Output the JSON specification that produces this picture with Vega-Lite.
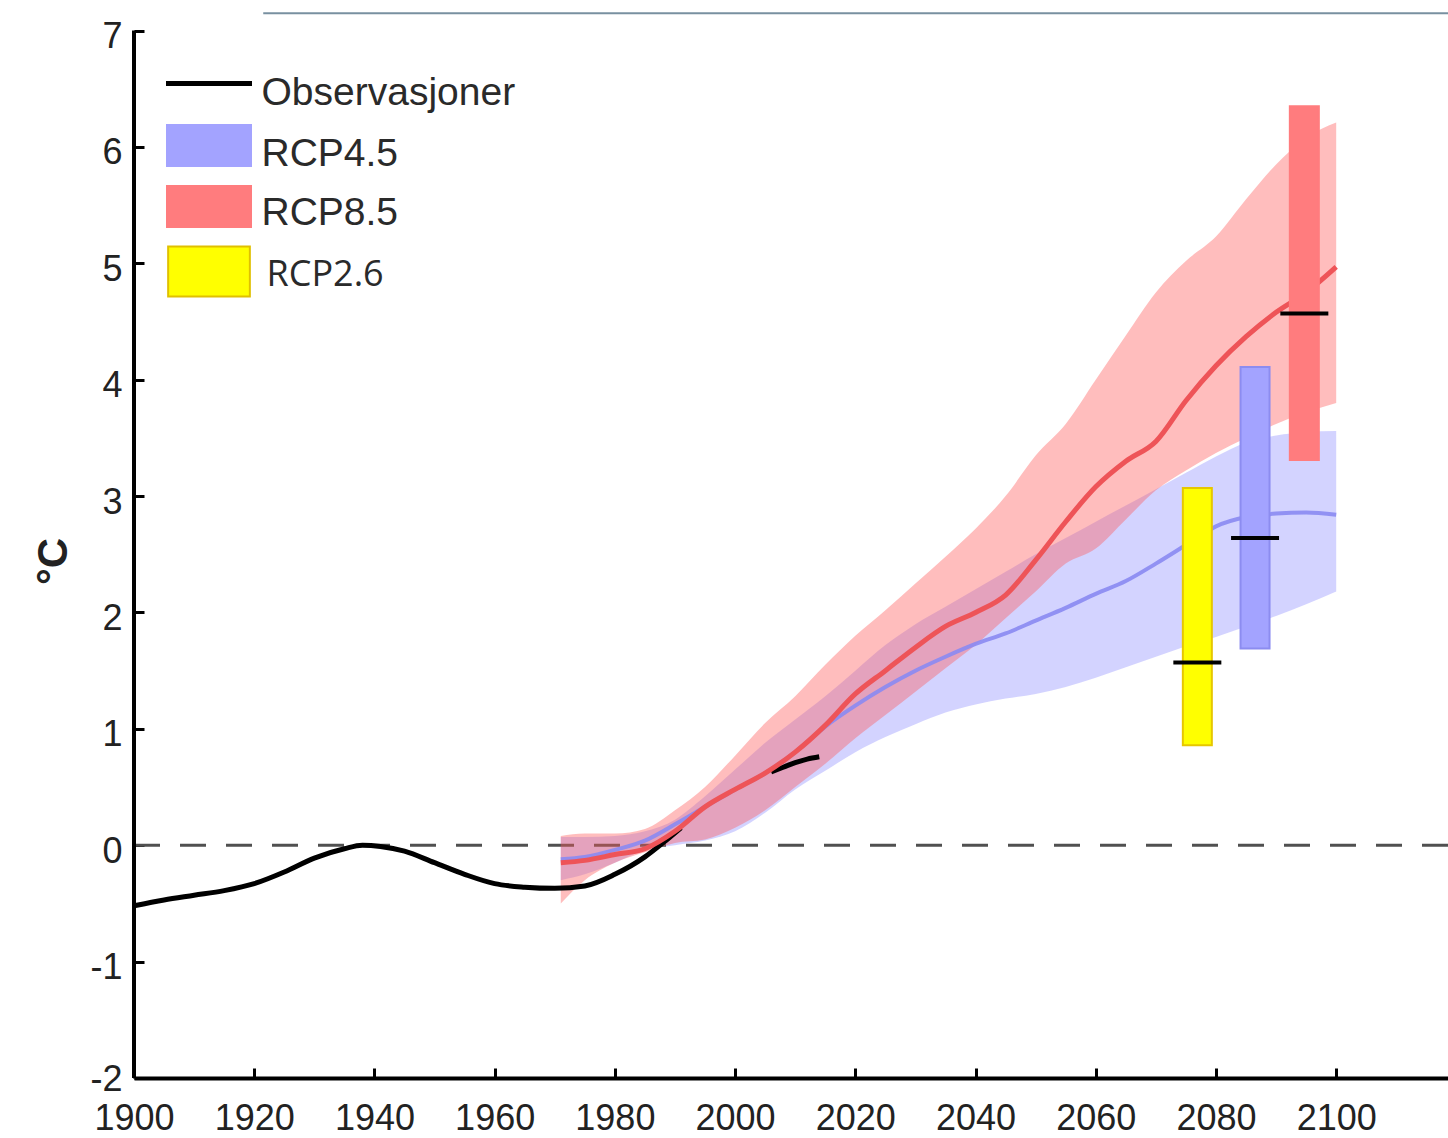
{
  "$schema": "https://vega.github.io/schema/vega-lite/v6.json",
  "width": 1314,
  "height": 1066,
  "autosize": {"type": "none"},
  "padding": {"left": 134, "top": 12, "right": 0, "bottom": 60},
  "background": "white",
  "config": {"view": {"stroke": null}, "font": "Liberation Sans"},
  "datasets": {
    "obs": [
      {"year": 1900, "temp": -0.52, "seg": "a"},
      {"year": 1905, "temp": -0.47, "seg": "a"},
      {"year": 1910, "temp": -0.43, "seg": "a"},
      {"year": 1915, "temp": -0.39, "seg": "a"},
      {"year": 1920, "temp": -0.33, "seg": "a"},
      {"year": 1925, "temp": -0.23, "seg": "a"},
      {"year": 1930, "temp": -0.11, "seg": "a"},
      {"year": 1935, "temp": -0.03, "seg": "a"},
      {"year": 1938, "temp": 0.0, "seg": "a"},
      {"year": 1941, "temp": -0.01, "seg": "a"},
      {"year": 1945, "temp": -0.05, "seg": "a"},
      {"year": 1950, "temp": -0.15, "seg": "a"},
      {"year": 1955, "temp": -0.25, "seg": "a"},
      {"year": 1960, "temp": -0.33, "seg": "a"},
      {"year": 1965, "temp": -0.36, "seg": "a"},
      {"year": 1970, "temp": -0.37, "seg": "a"},
      {"year": 1975, "temp": -0.35, "seg": "a"},
      {"year": 1980, "temp": -0.25, "seg": "a"},
      {"year": 1985, "temp": -0.1, "seg": "a"},
      {"year": 1988, "temp": 0.02, "seg": "a"},
      {"year": 1991, "temp": 0.15, "seg": "a"},
      {"year": 2006, "temp": 0.63, "seg": "b"},
      {"year": 2008, "temp": 0.67, "seg": "b"},
      {"year": 2010, "temp": 0.71, "seg": "b"},
      {"year": 2012, "temp": 0.74, "seg": "b"},
      {"year": 2014, "temp": 0.76, "seg": "b"}
    ],
    "proj": [
      {"year": 1971, "scen": "RCP4.5", "mean": -0.12, "lo": -0.30, "hi": 0.07},
      {"year": 1975, "scen": "RCP4.5", "mean": -0.10, "lo": -0.25, "hi": 0.07},
      {"year": 1980, "scen": "RCP4.5", "mean": -0.04, "lo": -0.15, "hi": 0.08},
      {"year": 1985, "scen": "RCP4.5", "mean": 0.04, "lo": -0.04, "hi": 0.12},
      {"year": 1990, "scen": "RCP4.5", "mean": 0.18, "lo": 0.00, "hi": 0.22},
      {"year": 1995, "scen": "RCP4.5", "mean": 0.33, "lo": 0.04, "hi": 0.42},
      {"year": 2000, "scen": "RCP4.5", "mean": 0.48, "lo": 0.12, "hi": 0.65},
      {"year": 2005, "scen": "RCP4.5", "mean": 0.62, "lo": 0.28, "hi": 0.88},
      {"year": 2010, "scen": "RCP4.5", "mean": 0.80, "lo": 0.48, "hi": 1.08},
      {"year": 2015, "scen": "RCP4.5", "mean": 1.02, "lo": 0.64, "hi": 1.28},
      {"year": 2020, "scen": "RCP4.5", "mean": 1.20, "lo": 0.80, "hi": 1.50},
      {"year": 2025, "scen": "RCP4.5", "mean": 1.36, "lo": 0.93, "hi": 1.72},
      {"year": 2030, "scen": "RCP4.5", "mean": 1.50, "lo": 1.04, "hi": 1.90},
      {"year": 2035, "scen": "RCP4.5", "mean": 1.62, "lo": 1.14, "hi": 2.05},
      {"year": 2040, "scen": "RCP4.5", "mean": 1.73, "lo": 1.21, "hi": 2.20},
      {"year": 2045, "scen": "RCP4.5", "mean": 1.82, "lo": 1.26, "hi": 2.35},
      {"year": 2050, "scen": "RCP4.5", "mean": 1.93, "lo": 1.30, "hi": 2.50},
      {"year": 2055, "scen": "RCP4.5", "mean": 2.04, "lo": 1.36, "hi": 2.64},
      {"year": 2060, "scen": "RCP4.5", "mean": 2.16, "lo": 1.44, "hi": 2.78},
      {"year": 2065, "scen": "RCP4.5", "mean": 2.27, "lo": 1.53, "hi": 2.92},
      {"year": 2070, "scen": "RCP4.5", "mean": 2.42, "lo": 1.62, "hi": 3.06},
      {"year": 2075, "scen": "RCP4.5", "mean": 2.58, "lo": 1.71, "hi": 3.20},
      {"year": 2080, "scen": "RCP4.5", "mean": 2.74, "lo": 1.79, "hi": 3.34},
      {"year": 2085, "scen": "RCP4.5", "mean": 2.82, "lo": 1.88, "hi": 3.46},
      {"year": 2090, "scen": "RCP4.5", "mean": 2.85, "lo": 1.97, "hi": 3.52},
      {"year": 2095, "scen": "RCP4.5", "mean": 2.86, "lo": 2.07, "hi": 3.55},
      {"year": 2100, "scen": "RCP4.5", "mean": 2.84, "lo": 2.18, "hi": 3.56},
      {"year": 1971, "scen": "RCP8.5", "mean": -0.15, "lo": -0.50, "hi": 0.08},
      {"year": 1975, "scen": "RCP8.5", "mean": -0.13, "lo": -0.30, "hi": 0.10},
      {"year": 1980, "scen": "RCP8.5", "mean": -0.08, "lo": -0.15, "hi": 0.10},
      {"year": 1985, "scen": "RCP8.5", "mean": -0.03, "lo": -0.06, "hi": 0.14},
      {"year": 1990, "scen": "RCP8.5", "mean": 0.12, "lo": 0.02, "hi": 0.30},
      {"year": 1995, "scen": "RCP8.5", "mean": 0.33, "lo": 0.05, "hi": 0.50},
      {"year": 2000, "scen": "RCP8.5", "mean": 0.48, "lo": 0.15, "hi": 0.77},
      {"year": 2005, "scen": "RCP8.5", "mean": 0.62, "lo": 0.30, "hi": 1.05},
      {"year": 2010, "scen": "RCP8.5", "mean": 0.80, "lo": 0.50, "hi": 1.28},
      {"year": 2015, "scen": "RCP8.5", "mean": 1.03, "lo": 0.70, "hi": 1.55},
      {"year": 2020, "scen": "RCP8.5", "mean": 1.30, "lo": 0.92, "hi": 1.80},
      {"year": 2025, "scen": "RCP8.5", "mean": 1.50, "lo": 1.12, "hi": 2.02},
      {"year": 2030, "scen": "RCP8.5", "mean": 1.70, "lo": 1.32, "hi": 2.25},
      {"year": 2035, "scen": "RCP8.5", "mean": 1.88, "lo": 1.52, "hi": 2.48},
      {"year": 2040, "scen": "RCP8.5", "mean": 2.00, "lo": 1.72, "hi": 2.72},
      {"year": 2045, "scen": "RCP8.5", "mean": 2.15, "lo": 1.95, "hi": 3.00},
      {"year": 2050, "scen": "RCP8.5", "mean": 2.45, "lo": 2.18, "hi": 3.35},
      {"year": 2055, "scen": "RCP8.5", "mean": 2.78, "lo": 2.42, "hi": 3.62},
      {"year": 2060, "scen": "RCP8.5", "mean": 3.08, "lo": 2.55, "hi": 4.00},
      {"year": 2065, "scen": "RCP8.5", "mean": 3.30, "lo": 2.80, "hi": 4.38},
      {"year": 2070, "scen": "RCP8.5", "mean": 3.47, "lo": 3.05, "hi": 4.75},
      {"year": 2075, "scen": "RCP8.5", "mean": 3.82, "lo": 3.22, "hi": 5.02},
      {"year": 2080, "scen": "RCP8.5", "mean": 4.12, "lo": 3.37, "hi": 5.23},
      {"year": 2085, "scen": "RCP8.5", "mean": 4.37, "lo": 3.50, "hi": 5.55},
      {"year": 2090, "scen": "RCP8.5", "mean": 4.58, "lo": 3.62, "hi": 5.85},
      {"year": 2095, "scen": "RCP8.5", "mean": 4.75, "lo": 3.72, "hi": 6.08},
      {"year": 2100, "scen": "RCP8.5", "mean": 4.97, "lo": 3.80, "hi": 6.21}
    ],
    "bars": [
      {"scen": "RCP2.6", "year": 2076.9, "low": 0.86, "high": 3.07, "median": 1.57},
      {"scen": "RCP4.5", "year": 2086.5, "low": 1.69, "high": 4.11, "median": 2.64},
      {"scen": "RCP8.5", "year": 2094.7, "low": 3.31, "high": 6.35, "median": 4.57}
    ],
    "one": [{}]
  },
  "layer": [
    {
      "data": {"name": "proj"},
      "transform": [{"filter": "datum.scen === 'RCP4.5'"}],
      "mark": {"type": "area", "color": "#8c8cff", "opacity": 0.38, "interpolate": "monotone"},
      "encoding": {
        "x": {
          "field": "year", "type": "quantitative",
          "scale": {"domain": [1900, 2118.6], "nice": false, "zero": false, "padding": 0},
          "axis": {
            "title": null, "values": [1900, 1920, 1940, 1960, 1980, 2000, 2020, 2040, 2060, 2080, 2100],
            "format": "d", "grid": false, "domain": true, "domainColor": "#000000", "domainWidth": 4,
            "ticks": true, "tickColor": "#000000", "tickWidth": 3, "tickSize": -10,
            "labelFont": "Liberation Sans", "labelFontSize": 36, "labelColor": "#222222",
            "labelPadding": 33, "labelFlush": false, "labelOverlap": false
          }
        },
        "y": {
          "field": "lo", "type": "quantitative",
          "scale": {"domain": [-2, 7.16], "nice": false, "zero": false, "padding": 0},
          "axis": {
            "title": "°C", "values": [-2, -1, 0, 1, 2, 3, 4, 5, 6, 7], "grid": false, "domain": false,
            "labelExpr": "'' + datum.value",
            "ticks": true, "tickColor": "#000000", "tickWidth": 3, "tickSize": -10,
            "labelFont": "Liberation Sans", "labelFontSize": 36, "labelColor": "#222222",
            "labelPadding": 22,
            "labelOffset": {"condition": {"test": "datum.value === -2", "value": 1}, "value": 6},
            "titleFont": "Liberation Sans", "titleFontSize": 42, "titleFontWeight": "bold", "titleColor": "#222222",
            "titleAngle": 270, "titleX": -81, "titleY": 549, "titleAlign": "center", "titleBaseline": "middle"
          }
        },
        "y2": {"field": "hi"}
      }
    },
    {
      "data": {"name": "one"},
      "mark": {"type": "rule", "color": "#505050", "strokeWidth": 3, "strokeDash": [26, 20]},
      "encoding": {"y": {"datum": 0}}
    },
    {
      "data": {"name": "proj"},
      "transform": [{"filter": "datum.scen === 'RCP8.5'"}],
      "mark": {"type": "area", "color": "#ff5a5a", "opacity": 0.4, "interpolate": "monotone"},
      "encoding": {
        "x": {"field": "year", "type": "quantitative"},
        "y": {"field": "lo", "type": "quantitative"},
        "y2": {"field": "hi"}
      }
    },
    {
      "data": {"name": "proj"},
      "transform": [{"filter": "datum.scen === 'RCP4.5'"}],
      "mark": {"type": "line", "color": "#8a8af2", "strokeWidth": 4, "opacity": 0.9, "interpolate": "monotone"},
      "encoding": {
        "x": {"field": "year", "type": "quantitative"},
        "y": {"field": "mean", "type": "quantitative"}
      }
    },
    {
      "data": {"name": "obs"},
      "mark": {"type": "line", "color": "#000000", "strokeWidth": 5, "interpolate": "monotone"},
      "encoding": {
        "x": {"field": "year", "type": "quantitative"},
        "y": {"field": "temp", "type": "quantitative"},
        "detail": {"field": "seg"}
      }
    },
    {
      "data": {"name": "proj"},
      "transform": [{"filter": "datum.scen === 'RCP8.5'"}],
      "mark": {"type": "line", "color": "#ee5458", "strokeWidth": 5, "interpolate": "monotone"},
      "encoding": {
        "x": {"field": "year", "type": "quantitative"},
        "y": {"field": "mean", "type": "quantitative"}
      }
    },
    {
      "data": {"name": "bars"},
      "mark": {"type": "bar", "width": 29, "strokeWidth": 2, "opacity": 1},
      "encoding": {
        "x": {"field": "year", "type": "quantitative"},
        "y": {"field": "low", "type": "quantitative"},
        "y2": {"field": "high"},
        "color": {
          "field": "scen", "type": "nominal",
          "scale": {"domain": ["Observasjoner", "RCP4.5", "RCP8.5", "RCP2.6"], "range": ["#000000", "#a3a3ff", "#ff7c7e", "#ffff00"]},
          "legend": {
            "orient": "none", "legendX": 52.5, "legendY": 49, "title": null, "padding": 0,
            "symbolSize": 1849, "symbolStrokeWidth": 0, "symbolOpacity": 1,
            "labelFont": "Liberation Sans", "labelFontSize": 39, "labelColor": "#2a2a2a",
            "labelLimit": 500, "labelOffset": 30, "rowPadding": 7,
            "encode": {
              "symbols": {"update": {
                "shape": {"signal": "datum.value === 'Observasjoner' ? 'M-2,-0.12H2V0.12H-2Z' : datum.value === 'RCP2.6' ? 'M-1.9,-0.74H1.9V1.58H-1.9Z' : 'M-2,-1H2V1H-2Z'"},
                "fill": {"signal": "datum.value === 'Observasjoner' ? '#000000' : datum.value === 'RCP4.5' ? '#9b9bfb' : datum.value === 'RCP8.5' ? '#ff6464' : '#ffff00'"},
                "stroke": {"signal": "datum.value === 'RCP2.6' ? '#e0c000' : 'transparent'"},
                "strokeWidth": {"value": 2},
                "opacity": {"value": 1}
              }},
              "labels": {"update": {
                "font": {"signal": "datum.value === 'RCP2.6' ? 'Open Sans' : 'Liberation Sans'"},
                "fontSize": {"signal": "datum.value === 'RCP2.6' ? 36 : 39"},
                "dx": {"signal": "datum.value === 'RCP2.6' ? 5 : 0"},
                "dy": {"signal": "datum.value === 'Observasjoner' ? 9 : datum.value === 'RCP4.5' ? 8 : datum.value === 'RCP8.5' ? 6 : 12"}
              }}
            }
          }
        },
        "stroke": {
          "field": "scen", "type": "nominal",
          "scale": {"domain": ["RCP2.6", "RCP4.5", "RCP8.5"], "range": ["#e6c700", "#8c8cf0", "#ff7c7e"]},
          "legend": null
        }
      }
    },
    {
      "data": {"name": "bars"},
      "mark": {"type": "tick", "orient": "horizontal", "size": 48, "thickness": 4, "color": "#000000", "opacity": 1},
      "encoding": {
        "x": {"field": "year", "type": "quantitative"},
        "y": {"field": "median", "type": "quantitative"}
      }
    },
    {
      "data": {"name": "one"},
      "mark": {"type": "rule", "color": "#000000", "strokeWidth": 4},
      "encoding": {"x": {"datum": 1900}, "y": {"datum": -2}, "y2": {"datum": 7}}
    },
    {
      "data": {"name": "one"},
      "mark": {"type": "rule", "color": "#7890a0", "strokeWidth": 2},
      "encoding": {"x": {"datum": 1921.5}, "x2": {"datum": 2118.6}, "y": {"datum": 7.15}}
    }
  ]
}
